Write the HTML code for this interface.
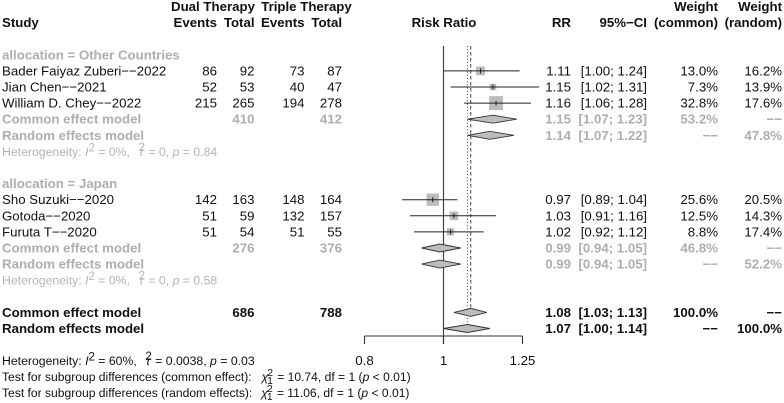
<!DOCTYPE html>
<html lang="en">
<head>
<meta charset="utf-8">
<title>Forest plot: dual vs triple therapy</title>
<style>
html,body{margin:0;padding:0;background:#fff;width:784px;height:403px;overflow:hidden}
svg{display:block;filter:blur(0.3px)}
text{font-family:"Liberation Sans",sans-serif;font-size:13.25px;fill:#111}
.small{font-size:12.25px}
.test{font-size:12.1px}
.it{font-style:italic}
</style>
</head>
<body>
<svg id="plot" xmlns="http://www.w3.org/2000/svg" width="784" height="403" viewBox="0 0 784 403">
  <rect x="0" y="0" width="784" height="403" fill="#fff"></rect>
  <g id="hetA">
    <text class="small" x="2" y="156" style="fill:#b4b4b4">Heterogeneity: <tspan class="it">I</tspan><tspan dy="-4.5" font-size="11.5">2</tspan><tspan dy="4.5"> = 0%,</tspan><tspan class="it" dx="9">τ</tspan><tspan dy="-5" dx="-5" font-size="11.5">2</tspan><tspan dy="5"> = 0, </tspan><tspan class="it">p</tspan> = 0.84</text>
  </g>
  <g id="hetB">
    <text class="small" x="2" y="284.5" style="fill:#b4b4b4">Heterogeneity: <tspan class="it">I</tspan><tspan dy="-4.5" font-size="11.5">2</tspan><tspan dy="4.5"> = 0%,</tspan><tspan class="it" dx="9">τ</tspan><tspan dy="-5" dx="-5" font-size="11.5">2</tspan><tspan dy="5"> = 0, </tspan><tspan class="it">p</tspan> = 0.58</text>
  </g>
  <g id="footer">
    <text class="small" x="2" y="365">Heterogeneity: <tspan class="it">I</tspan><tspan dy="-4.5" font-size="11.5">2</tspan><tspan dy="4.5"> = 60%,</tspan><tspan class="it" dx="9">τ</tspan><tspan dy="-5" dx="-5" font-size="11.5">2</tspan><tspan dy="5"> = 0.0038, </tspan><tspan class="it">p</tspan> = 0.03</text>
    <text class="test" x="2" y="381">Test for subgroup differences (common effect):<tspan class="it" dx="10">χ</tspan><tspan dy="-5" dx="-1" font-size="10.5">2</tspan><tspan dy="8" dx="-5.8" font-size="10">1</tspan><tspan dy="-3" dx="1"> = 10.74, df = 1 (</tspan><tspan class="it">p</tspan> &lt; 0.01)</text>
    <text class="test" x="2" y="397">Test for subgroup differences (random effects):<tspan class="it" dx="9">χ</tspan><tspan dy="-5" dx="-1" font-size="10.5">2</tspan><tspan dy="8" dx="-5.8" font-size="10">1</tspan><tspan dy="-3" dx="1"> = 11.06, df = 1 (</tspan><tspan class="it">p</tspan> &lt; 0.01)</text>
  </g>
</svg>
<script>
const groupLabels = ['allocation = Other Countries', 'allocation = Japan'];
const groupSizes = [3, 3];
const groupStartRows = [3, 11];
const studyNames = ['Bader Faiyaz Zuberi−−2022', 'Jian Chen−−2021', 'William D. Chey−−2022', 'Sho Suzuki−−2020', 'Gotoda−−2020', 'Furuta T−−2020'];
const dualEvents = [86, 52, 215, 142, 51, 51];
const dualTotals = [92, 53, 265, 163, 59, 54];
const tripleEvents = [73, 40, 194, 148, 132, 51];
const tripleTotals = [87, 47, 278, 164, 157, 55];
const studyRR = [1.11, 1.15, 1.16, 0.97, 1.03, 1.02];
const studyLow = [1.00, 1.02, 1.06, 0.89, 0.91, 0.92];
const studyHigh = [1.24, 1.31, 1.28, 1.04, 1.16, 1.12];
const studyWeightCommon = [13.0, 7.3, 32.8, 25.6, 12.5, 8.8];
const studyWeightRandom = [16.2, 13.9, 17.6, 20.5, 14.3, 17.4];
const pooledDualTotals = [410, 276, 686];
const pooledTripleTotals = [412, 376, 788];
const commonRR = [1.15, 0.99, 1.08];
const commonLow = [1.07, 0.94, 1.03];
const commonHigh = [1.23, 1.05, 1.13];
const commonWeight = [53.2, 46.8, 100.0];
const randomRR = [1.14, 0.99, 1.07];
const randomLow = [1.07, 0.94, 1.00];
const randomHigh = [1.22, 1.05, 1.14];
const randomWeight = [47.8, 52.2, 100.0];
const tickValues = [0.8, 1, 1.25];
const tickLabels = ['0.8', '1', '1.25'];

const svg = document.getElementById('plot');
const NS = 'http://www.w3.org/2000/svg';
const GREY = '#aeaeae';
const DARK = '#111';
const xOf = v => 443.5 + 354 * Math.log(v);
const baseOf = row => 11 + 16.1 * row;
const midOf = row => baseOf(row) - 4.5;

function mk(tag, props, parent) {
  const el = document.createElementNS(NS, tag);
  for (const k in props) el.setAttribute(k, props[k]);
  (parent || svg).appendChild(el);
  return el;
}
function txt(s, x, row, anchor, bold, color) {
  const el = mk('text', {x: x, y: baseOf(row), 'text-anchor': anchor});
  if (bold) el.style.fontWeight = 'bold';
  if (color) el.style.fill = color;
  el.textContent = s;
  return el;
}
function put(s, x, row, anchor, bold, color, name) {
  const el = txt(s, x, row, anchor, bold, color);
  
  
  return el;
}
const ci = (lo, hi) => '[' + lo.toFixed(2) + '; ' + hi.toFixed(2) + ']';
const pct = v => v.toFixed(1) + '%';

const COL = {ev1: 217, tot1: 254.5, ev2: 304.5, tot2: 342, rr: 571, ci: 647, wc: 718, wr: 782};

/* headers */
put('Dual Therapy', 213, 0, 'middle', true, DARK, 'header-dual-therapy');
put('Triple Therapy', 306.5, 0, 'middle', true, DARK, 'header-triple-therapy');
put('Weight', 718, 0, 'end', true, DARK, 'header-weight-common');
put('Weight', 782, 0, 'end', true, DARK, 'header-weight-random');
put('Study', 2, 1, 'start', true, DARK, 'header-study');
put('Events', COL.ev1, 1, 'end', true, DARK, 'header-dual-events');
put('Total', COL.tot1, 1, 'end', true, DARK, 'header-dual-total');
put('Events', COL.ev2, 1, 'end', true, DARK, 'header-triple-events');
put('Total', COL.tot2, 1, 'end', true, DARK, 'header-triple-total');
put('Risk Ratio', 444, 1, 'middle', true, DARK, 'header-risk-ratio');
put('RR', COL.rr, 1, 'end', true, DARK, 'header-rr');
put('95%−CI', COL.ci, 1, 'end', true, DARK, 'header-ci');
put('(common)', 718, 1, 'end', true, DARK, 'header-common');
put('(random)', 782, 1, 'end', true, DARK, 'header-random');

/* reference lines */
const refLine = mk('line', {x1: xOf(1), x2: xOf(1), y1: 46, y2: 344, stroke: '#444', 'stroke-width': 1.2});


const commonLine = mk('line', {x1: xOf(commonRR[2]), x2: xOf(commonRR[2]), y1: 46, y2: 308, stroke: '#444', 'stroke-width': 1, 'stroke-dasharray': '3.5 2.5'});


const randomLine = mk('line', {x1: xOf(randomRR[2]), x2: xOf(randomRR[2]), y1: 46, y2: 324, stroke: '#444', 'stroke-width': 1, 'stroke-dasharray': '1 2.2'});



/* x axis */
const axisLine = mk('line', {x1: xOf(tickValues[0]), x2: xOf(tickValues[2]), y1: 336, y2: 336, stroke: '#333', 'stroke-width': 1.1});


tickValues.forEach((v, i) => {
  const t = mk('line', {x1: xOf(v), x2: xOf(v), y1: 336, y2: 344, stroke: '#333', 'stroke-width': 1.1});
  
  
  const l = mk('text', {x: xOf(v), y: 365, 'text-anchor': 'middle'});
  l.textContent = tickLabels[i];
  
  
});

function diamond(rr, lo, hi, row, name) {
  const y = midOf(row);
  const pts = [[xOf(lo), y], [xOf(rr), y - 4], [xOf(hi), y], [xOf(rr), y + 4]].map(p => p.join(',')).join(' ');
  const d = mk('polygon', {points: pts, fill: '#bdbdbd', stroke: '#333', 'stroke-width': 0.9});
  
  
}

function summaryRows(g, row, color) {
  put('Common effect model', 2, row, 'start', true, color, 'common-effect-label');
  put(String(pooledDualTotals[g]), COL.tot1, row, 'end', true, color, 'common-dual-total');
  put(String(pooledTripleTotals[g]), COL.tot2, row, 'end', true, color, 'common-triple-total');
  put(commonRR[g].toFixed(2), COL.rr, row, 'end', true, color, 'common-rr');
  put(ci(commonLow[g], commonHigh[g]), COL.ci, row, 'end', true, color, 'common-ci');
  put(pct(commonWeight[g]), COL.wc, row, 'end', true, color, 'common-weight-common');
  put('−−', COL.wr, row, 'end', true, color, 'common-weight-random');
  diamond(commonRR[g], commonLow[g], commonHigh[g], row, 'common-effect-diamond');
  const r2 = row + 1;
  put('Random effects model', 2, r2, 'start', true, color, 'random-effects-label');
  put(randomRR[g].toFixed(2), COL.rr, r2, 'end', true, color, 'random-rr');
  put(ci(randomLow[g], randomHigh[g]), COL.ci, r2, 'end', true, color, 'random-ci');
  put('−−', COL.wc, r2, 'end', true, color, 'random-weight-common');
  put(pct(randomWeight[g]), COL.wr, r2, 'end', true, color, 'random-weight-random');
  diamond(randomRR[g], randomLow[g], randomHigh[g], r2, 'random-effects-diamond');
}

/* subgroups */
let idx = 0;
groupLabels.forEach((label, g) => {
  const start = groupStartRows[g];
  put(label, 2, start, 'start', true, GREY, 'subgroup-label');
  for (let j = 0; j < groupSizes[g]; j++, idx++) {
    const row = start + 1 + j;
    const y = midOf(row);
    put(studyNames[idx], 2, row, 'start', false, DARK, 'study-name');
    put(String(dualEvents[idx]), COL.ev1, row, 'end', false, DARK, 'dual-events');
    put(String(dualTotals[idx]), COL.tot1, row, 'end', false, DARK, 'dual-total');
    put(String(tripleEvents[idx]), COL.ev2, row, 'end', false, DARK, 'triple-events');
    put(String(tripleTotals[idx]), COL.tot2, row, 'end', false, DARK, 'triple-total');
    put(studyRR[idx].toFixed(2), COL.rr, row, 'end', false, DARK, 'study-rr');
    put(ci(studyLow[idx], studyHigh[idx]), COL.ci, row, 'end', false, DARK, 'study-ci');
    put(pct(studyWeightCommon[idx]), COL.wc, row, 'end', false, DARK, 'study-weight-common');
    put(pct(studyWeightRandom[idx]), COL.wr, row, 'end', false, DARK, 'study-weight-random');
    const size = 2.44 * Math.sqrt(studyWeightCommon[idx]);
    const sq = mk('rect', {x: xOf(studyRR[idx]) - size / 2, y: y - size / 2, width: size, height: size, fill: '#bcbcbc'});
    
    
    const whisker = mk('line', {x1: xOf(studyLow[idx]), x2: xOf(studyHigh[idx]), y1: y, y2: y, stroke: '#222', 'stroke-width': 1});
    
    
    const mark = mk('line', {x1: xOf(studyRR[idx]), x2: xOf(studyRR[idx]), y1: y - 2.5, y2: y + 2.5, stroke: '#111', 'stroke-width': 0.9});
    
    
  }
  summaryRows(g, start + 1 + groupSizes[g], GREY);
});
summaryRows(2, 19, DARK);
</script>
</body>
</html>
